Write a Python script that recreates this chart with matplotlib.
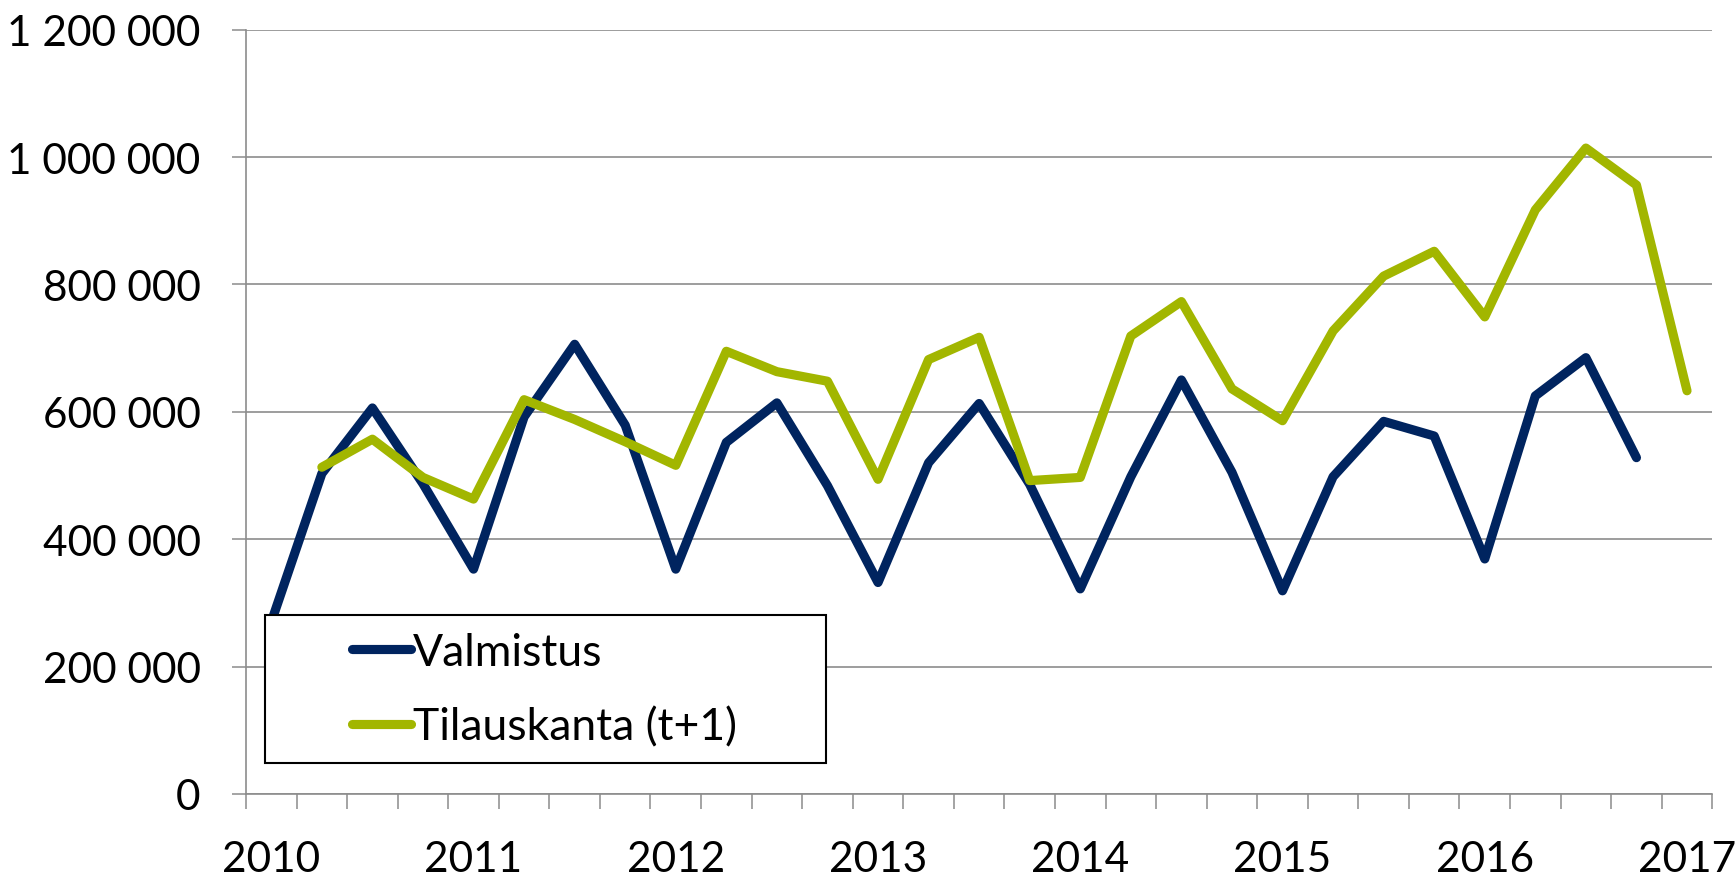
import numpy as np
import matplotlib
matplotlib.use("Agg")
import matplotlib.pyplot as plt
from matplotlib.patches import Rectangle

plt.rcParams['font.family'] = ['Lato', 'DejaVu Sans']

# ---- data (quarterly, 2010Q1 .. 2017Q1) ----
year_labels = ["2010", "2011", "2012", "2013", "2014", "2015", "2016", "2017"]
n_quarters = 29
valmistus = [270000, 503000, 606000, 487000, 353000, 592000, 706000, 579000,
             353000, 552000, 614000, 484000, 332000, 520000, 613000, 486000,
             322000, 498000, 650000, 505000, 319000, 498000, 585000, 562000,
             369000, 625000, 685000, 528000, np.nan]
tilauskanta = [np.nan, 513000, 557000, 497000, 463000, 619000, 588000, 553000,
               516000, 695000, 663000, 648000, 494000, 682000, 717000, 492000,
               497000, 719000, 773000, 636000, 586000, 727000, 813000, 852000,
               749000, 917000, 1014000, 956000, 633000]
series_names = ["Valmistus", "Tilauskanta (t+1)"]
yticks = [0, 200000, 400000, 600000, 800000, 1000000, 1200000]

navy = "#00245F"
green = "#A2B600"
grid_c = "#8C8C8C"

W, H = 1736, 878
fig = plt.figure(figsize=(W / 100, H / 100), dpi=100)
left, right, top, bottom = 246, 1712.3, 30.6, 795
ax = fig.add_axes([left / W, 1 - bottom / H, (right - left) / W, (bottom - top) / H])

x = np.arange(n_quarters)
l1, = ax.plot(x, valmistus, color=navy, lw=6.6, solid_capstyle='round',
              solid_joinstyle='round', zorder=3, label=series_names[0])
l2, = ax.plot(x, tilauskanta, color=green, lw=6.6, solid_capstyle='round',
              solid_joinstyle='round', zorder=3, label=series_names[1])

ax.set_xlim(-0.5, n_quarters - 0.5)
ax.set_ylim(0, 1200000)

# y axis
ax.set_yticks(yticks)
ax.set_yticklabels([f"{v:,}".replace(",", " ") for v in yticks])
ax.tick_params(axis='y', length=10.2, width=1.1, color=grid_c, pad=22.5,
               labelsize=30.5, labelcolor='black')
ax.yaxis.grid(True, color=grid_c, lw=1.2, zorder=1)
ax.set_axisbelow(True)

# x axis
ax.set_xticks(np.arange(0, n_quarters, 4))
ax.set_xticklabels(year_labels)
ax.set_xticks(np.arange(-0.5, n_quarters, 1), minor=True)
ax.tick_params(axis='x', which='major', length=0, pad=33, labelsize=30.5)
ax.tick_params(axis='x', which='minor', length=10.8, width=1.1, color=grid_c)

for s in ['top', 'right']:
    ax.spines[s].set_visible(False)
for s in ['left', 'bottom']:
    ax.spines[s].set_color(grid_c)
    ax.spines[s].set_linewidth(1.2)

# legend box
pw = right - left
ph = bottom - top
bx0 = (265 - left) / pw
by0 = (bottom - 764) / ph
bw = (826 - 265) / pw
bh = (764 - 616) / ph
ax.add_patch(Rectangle((bx0, by0), bw, bh, transform=ax.transAxes,
                       facecolor='white', edgecolor='black', lw=1.5, zorder=5))
row1 = (bottom - 653.3) / ph
row2 = (bottom - 727.7) / ph
leg = ax.legend(handles=[l1, l2], loc='center left',
                bbox_to_anchor=((352 - left) / pw, (row1 + row2) / 2),
                frameon=False, borderpad=0, borderaxespad=0, handlelength=1.33,
                handletextpad=0.05, labelspacing=0.75, fontsize=32)
leg.set_zorder(6)

fig.savefig("out.png", dpi=100, facecolor='white')
